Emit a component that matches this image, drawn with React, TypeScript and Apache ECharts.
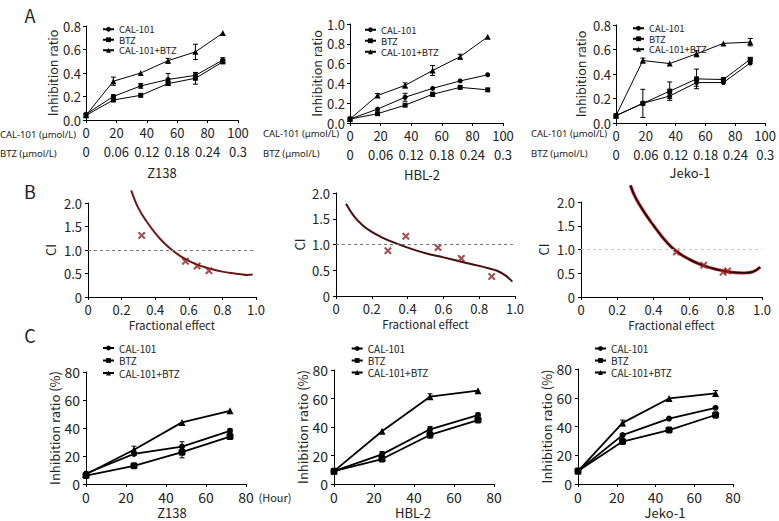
import React, { useEffect, useRef } from "react";
import * as echarts from "echarts";

// ---------- data ----------
const seriesNames = ["CAL-101", "BTZ", "CAL-101+BTZ"];

// Panel A: dose (CAL-101 µmol/L)
const doseX = [0, 18, 36, 54, 72, 90];
const btzTickLabels = ["0", "0.06", "0.12", "0.18", "0.24", "0.3"];

const z138Cal = [0.05, 0.2, 0.29, 0.345, 0.38, 0.51];
const z138CalErr = [0, 0.015, 0.02, 0.05, 0.02, 0.02];
const z138Btz = [0.04, 0.17, 0.21, 0.31, 0.355, 0.495];
const z138BtzErr = [0, 0.01, 0, 0.015, 0.05, 0.015];
const z138Combo = [0.04, 0.33, 0.4, 0.505, 0.58, 0.74];
const z138ComboErr = [0, 0.035, 0, 0.02, 0.065, 0];

const hblCal = [0.04, 0.14, 0.26, 0.35, 0.425, 0.487];
const hblCalErr = [0, 0, 0.04, 0, 0, 0];
const hblBtz = [0.04, 0.094, 0.18, 0.29, 0.36, 0.335];
const hblBtzErr = [0, 0, 0, 0.02, 0, 0];
const hblCombo = [0.04, 0.278, 0.38, 0.53, 0.67, 0.87];
const hblComboErr = [0, 0.02, 0.025, 0.05, 0.025, 0];

const jekoCal = [0.06, 0.16, 0.22, 0.33, 0.33, 0.49];
const jekoCalErr = [0, 0, 0.02, 0.03, 0, 0];
const jekoBtz = [0.06, 0.16, 0.26, 0.36, 0.355, 0.52];
const jekoBtzErr = [0, 0.115, 0.075, 0.08, 0.01, 0.01];
const jekoCombo = [0.06, 0.51, 0.485, 0.565, 0.65, 0.66];
const jekoComboErr = [0, 0.02, 0, 0.025, 0, 0.03];

// Panel B: CI vs fractional effect
const z138CurveFa = [0.257, 0.3, 0.35, 0.4, 0.45, 0.5, 0.55, 0.6, 0.65, 0.7, 0.75, 0.8, 0.85, 0.9, 0.95, 0.98];
const z138CurveCI = [2.27, 1.89, 1.6, 1.36, 1.16, 1.0, 0.87, 0.77, 0.69, 0.63, 0.58, 0.54, 0.51, 0.49, 0.47, 0.48];
const z138PointsFa = [0.32, 0.58, 0.65, 0.72];
const z138PointsCI = [1.31, 0.76, 0.66, 0.56];

const hblCurveFa = [0.056, 0.1, 0.15, 0.2, 0.25, 0.3, 0.4, 0.5, 0.6, 0.7, 0.8, 0.85, 0.9, 0.95, 0.985];
const hblCurveCI = [1.79, 1.55, 1.37, 1.245, 1.15, 1.07, 0.94, 0.83, 0.75, 0.665, 0.585, 0.54, 0.49, 0.39, 0.28];
const hblPointsFa = [0.29, 0.39, 0.57, 0.7, 0.87];
const hblPointsCI = [0.88, 1.16, 0.94, 0.73, 0.38];

const jekoCurveFa = [0.273, 0.3, 0.35, 0.4, 0.45, 0.5, 0.55, 0.6, 0.65, 0.7, 0.75, 0.8, 0.85, 0.9, 0.95, 0.99];
const jekoCurveCI = [2.35, 2.1, 1.78, 1.51, 1.26, 1.05, 0.9, 0.79, 0.7, 0.63, 0.58, 0.54, 0.515, 0.505, 0.53, 0.63];
const jekoPointsFa = [0.527, 0.678, 0.785, 0.81];
const jekoPointsCI = [0.95, 0.67, 0.52, 0.55];

// Panel C: time course (hours)
const hoursZ138 = [0, 24, 48, 72];
const hoursHbl = [0, 24, 48, 72];
const hoursJeko = [0, 23, 47, 71];

const cZ138Cal = [7.5, 21.5, 26.7, 38];
const cZ138CalErr = [0, 1, 3.5, 1.5];
const cZ138Btz = [6, 13, 22.7, 33.9];
const cZ138BtzErr = [0, 0, 4, 2];
const cZ138Combo = [7, 24.5, 44, 52.3];
const cZ138ComboErr = [0, 2.5, 0, 0];

const cHblCal = [9, 20.8, 38.4, 48.4];
const cHblCalErr = [0, 2, 2, 1.5];
const cHblBtz = [9, 17.5, 34.4, 44.9];
const cHblBtzErr = [0, 1, 2, 1.5];
const cHblCombo = [9, 37, 61.3, 65.5];
const cHblComboErr = [0, 0, 2, 0];

const cJekoCal = [9, 34, 45.5, 53];
const cJekoCalErr = [0, 0, 0, 0];
const cJekoBtz = [9, 29.5, 37.5, 48];
const cJekoBtzErr = [0, 0, 0, 2];
const cJekoCombo = [9, 42.5, 59.5, 63];
const cJekoComboErr = [0, 2, 0, 2];

// ---------- helpers ----------
const FONT = '"Noto Sans CJK KR", "Noto Sans", sans-serif';
const LATIN = '"Noto Sans", sans-serif';
const TXT = "#222";

const xy = (xs: number[], ys: number[]) => xs.map((x, i) => [x, ys[i]]);
const errData = (xs: number[], ys: number[], es: number[]) => {
  const out: number[][] = [];
  xs.forEach((x, i) => {
    if (es[i] > 0) out.push([x, ys[i] - es[i], ys[i] + es[i]]);
  });
  return out;
};

const renderErr = (params: any, api: any) => {
  const x = api.value(0);
  const a = api.coord([x, api.value(1)]);
  const b = api.coord([x, api.value(2)]);
  const w = 2.5;
  const style = { stroke: "#000", lineWidth: 1 };
  return {
    type: "group",
    children: [
      { type: "line", shape: { x1: a[0], y1: a[1], x2: b[0], y2: b[1] }, style },
      { type: "line", shape: { x1: a[0] - w, y1: a[1], x2: a[0] + w, y2: a[1] }, style },
      { type: "line", shape: { x1: b[0] - w, y1: b[1], x2: b[0] + w, y2: b[1] }, style },
    ],
  };
};

const axisBase = (fontSize: number, margin: number) => ({
  axisLine: { show: true, lineStyle: { color: "#000", width: 1 } },
  axisTick: { show: true, length: 3, lineStyle: { color: "#000" } },
  splitLine: { show: false },
  axisLabel: { color: TXT, fontSize, fontFamily: FONT, margin },
  nameTextStyle: { color: TXT, fontFamily: FONT, fontSize },
});

const X_SYMBOL =
  "path://M1.5,0 L5,3.5 L8.5,0 L10,1.5 L6.5,5 L10,8.5 L8.5,10 L5,6.5 L1.5,10 L0,8.5 L3.5,5 L0,1.5 Z";

function App() {
  const ref = useRef<HTMLDivElement>(null);

  useEffect(() => {
    if (!ref.current) return;
    const chart = echarts.init(ref.current, null, { renderer: "svg", width: 779, height: 521 });

    const grids = [
      { left: 86, top: 26, width: 152, height: 94 },
      { left: 350, top: 24, width: 153, height: 99 },
      { left: 616, top: 25, width: 152, height: 98 },
      { left: 88, top: 203, width: 168, height: 94 },
      { left: 336, top: 193, width: 179, height: 103 },
      { left: 581, top: 202, width: 181, height: 95 },
      { left: 86, top: 372, width: 160, height: 112 },
      { left: 334, top: 370, width: 160, height: 114 },
      { left: 578, top: 369, width: 155, height: 115 },
    ];

    const xAxes: any[] = [];
    const yAxes: any[] = [];
    const yNameGapA = [26, 26, 29];
    const yNameGapB = [31, 30, 31];
    const yNameGapC = [25, 23, 24];

    // A axes: xAxis index 2*i (CAL) and 2*i+1 (BTZ)
    for (let i = 0; i < 3; i++) {
      xAxes.push({
        type: "value", gridIndex: i, min: 0, max: 100, interval: 20, position: "bottom",
        ...axisBase(13, 6),
      });
      xAxes.push({
        type: "value", gridIndex: i, min: 0, max: 100, interval: 20, position: "bottom", offset: 19,
        ...axisBase(13, 6),
        axisLine: { show: false },
        axisTick: { show: false },
        axisLabel: {
          color: TXT, fontSize: 13, fontFamily: FONT, margin: 6,
          formatter: (v: number) => btzTickLabels[Math.round(v / 20)] ?? "",
        },
      });
      const yMax = i === 1 ? 1.0 : 0.8;
      yAxes.push({
        type: "value", gridIndex: i, min: 0, max: yMax, interval: 0.2,
        ...axisBase(13, 5),
        axisLabel: { color: TXT, fontSize: 13, fontFamily: FONT, margin: 5, formatter: (v: number) => v.toFixed(1) },
        name: "Inhibition ratio", nameLocation: "middle", nameGap: yNameGapA[i],
        nameTextStyle: { color: TXT, fontFamily: FONT, fontSize: 12.5 },
      });
    }
    // B axes: xAxis 6..8
    for (let i = 0; i < 3; i++) {
      const fmt = (v: number) => (v === 0 ? "0" : v.toFixed(1));
      xAxes.push({
        type: "value", gridIndex: 3 + i, min: 0, max: 1, interval: 0.2,
        ...axisBase(13, 6),
        axisLabel: { color: TXT, fontSize: 13, fontFamily: FONT, margin: 6, formatter: fmt },
        name: "Fractional effect", nameLocation: "middle", nameGap: 22,
        nameTextStyle: { color: TXT, fontFamily: FONT, fontSize: 11.5 },
      });
      yAxes.push({
        type: "value", gridIndex: 3 + i, min: 0, max: 2, interval: 0.5,
        ...axisBase(13, 6),
        axisLabel: { color: TXT, fontSize: 13, fontFamily: FONT, margin: 6, formatter: fmt },
        name: "CI", nameLocation: "middle", nameGap: yNameGapB[i],
        nameTextStyle: { color: TXT, fontFamily: FONT, fontSize: 13 },
      });
    }
    // C axes: xAxis 9..11
    for (let i = 0; i < 3; i++) {
      xAxes.push({
        type: "value", gridIndex: 6 + i, min: 0, max: 80, interval: 20,
        ...axisBase(14, 6),
      });
      yAxes.push({
        type: "value", gridIndex: 6 + i, min: 0, max: 80, interval: 20,
        ...axisBase(14, 6),
        name: "Inhibition ratio (%)", nameLocation: "middle", nameGap: yNameGapC[i],
        nameTextStyle: { color: TXT, fontFamily: FONT, fontSize: 13 },
      });
    }

    const series: any[] = [];
    const addGroup = (
      xAxisIndex: number, yAxisIndex: number, xs: number[],
      sets: [number[], number[]][], big: boolean
    ) => {
      const symbols = big ? ["circle", "roundRect", "triangle"] : ["circle", "rect", "triangle"];
      const sizes = big ? [6, 7, 7] : [5, 5, 6];
      sets.forEach(([ys, es], k) => {
        series.push({
          type: "line", name: seriesNames[k], xAxisIndex, yAxisIndex,
          data: xy(xs, ys), symbol: symbols[k], symbolSize: sizes[k], showSymbol: true,
          lineStyle: { color: "#000", width: big ? 1.8 : 1 },
          itemStyle: { color: "#000" }, z: 3,
        });
        const ed = errData(xs, ys, es);
        if (ed.length)
          series.push({
            type: "custom", xAxisIndex, yAxisIndex, data: ed, renderItem: renderErr,
            encode: { x: 0, y: [1, 2] }, silent: true, z: 4,
          });
      });
    };

    addGroup(0, 0, doseX, [[z138Cal, z138CalErr], [z138Btz, z138BtzErr], [z138Combo, z138ComboErr]], false);
    addGroup(2, 1, doseX, [[hblCal, hblCalErr], [hblBtz, hblBtzErr], [hblCombo, hblComboErr]], false);
    addGroup(4, 2, doseX, [[jekoCal, jekoCalErr], [jekoBtz, jekoBtzErr], [jekoCombo, jekoComboErr]], false);

    const addCI = (
      idx: number, cFa: number[], cCI: number[], pFa: number[], pCI: number[],
      curveColor: string, ptColor: string, refColor: string, halo: boolean
    ) => {
      const xi = 6 + idx, yi = 3 + idx;
      if (halo)
        series.push({
          type: "line", xAxisIndex: xi, yAxisIndex: yi, data: xy(cFa, cCI),
          showSymbol: false, smooth: 0.4, clip: false,
          lineStyle: { color: "#c23030", width: 3.2 }, z: 2,
        });
      series.push({
        type: "line", xAxisIndex: xi, yAxisIndex: yi, data: xy(cFa, cCI),
        showSymbol: false, smooth: 0.4, clip: false,
        lineStyle: { color: curveColor, width: halo ? 1.6 : 2 }, z: 3,
        markLine: {
          silent: true, symbol: "none", label: { show: false },
          lineStyle: { type: [3, 3], color: refColor, width: 1 },
          data: [{ yAxis: 1 }],
        },
      });
      series.push({
        type: "scatter", xAxisIndex: xi, yAxisIndex: yi, data: xy(pFa, pCI),
        symbol: X_SYMBOL, symbolSize: 7,
        itemStyle: { color: ptColor, borderColor: "#5a0d0d", borderWidth: 0.6 }, z: 4,
      });
    };
    addCI(0, z138CurveFa, z138CurveCI, z138PointsFa, z138PointsCI, "#701818", "#a02525", "#777", false);
    addCI(1, hblCurveFa, hblCurveCI, hblPointsFa, hblPointsCI, "#4a0c0c", "#a02525", "#777", false);
    addCI(2, jekoCurveFa, jekoCurveCI, jekoPointsFa, jekoPointsCI, "#1a0202", "#c02a2a", "#c8c8c8", true);

    addGroup(9, 6, hoursZ138, [[cZ138Cal, cZ138CalErr], [cZ138Btz, cZ138BtzErr], [cZ138Combo, cZ138ComboErr]], true);
    addGroup(10, 7, hoursHbl, [[cHblCal, cHblCalErr], [cHblBtz, cHblBtzErr], [cHblCombo, cHblComboErr]], true);
    addGroup(11, 8, hoursJeko, [[cJekoCal, cJekoCalErr], [cJekoBtz, cJekoBtzErr], [cJekoCombo, cJekoComboErr]], true);

    const mkLegend = (left: number, top: number, gap: number, lh: number, fs: number) => ({
      left, top, orient: "vertical", itemWidth: 11, itemHeight: 6, itemGap: gap,
      selectedMode: false, data: seriesNames,
      textStyle: { fontSize: fs, fontFamily: FONT, color: TXT, lineHeight: lh },
    });
    const legends = [
      mkLegend(97, 19, 0, 10.5, 9.5),
      mkLegend(359, 19.5, 0.5, 10.5, 9.5),
      mkLegend(627, 18, 0, 10.5, 9.5),
      mkLegend(97, 338, 2.5, 10, 10),
      mkLegend(345.7, 338.5, 2, 10, 10),
      mkLegend(589, 338.5, 2, 10, 10),
    ];

    const txt = (x: number, y: number, text: string, size: number, align = "center", fam = FONT) => ({
      type: "text", x, y,
      style: { text, fill: TXT, font: `${size}px ${fam}`, textAlign: align, textVerticalAlign: "middle" },
    });

    const graphic = [
      txt(30, 15, "A", 18), txt(30, 191, "B", 18), txt(30, 335, "C", 18),
      txt(162, 172, "Z138", 13), txt(422, 174, "HBL-2", 13), txt(690, 172, "Jeko-1", 13),
      txt(172, 512, "Z138", 13), txt(413, 512, "HBL-2", 13), txt(665, 512, "Jeko-1", 13),
      txt(0, 134, "CAL-101 (μmol/L)", 9.5, "left", LATIN), txt(0, 153, "BTZ (μmol/L)", 9.5, "left", LATIN),
      txt(263, 133, "CAL-101 (μmol/L)", 9.5, "left", LATIN), txt(263, 153, "BTZ (μmol/L)", 9.5, "left", LATIN),
      txt(531, 133, "CAL-101 (μmol/L)", 9.5, "left", LATIN), txt(531, 153, "BTZ (μmol/L)", 9.5, "left", LATIN),
      txt(275, 497, "(Hour)", 11),
    ];

    chart.setOption({
      animation: false,
      backgroundColor: "#fff",
      textStyle: { fontFamily: FONT },
      grid: grids,
      xAxis: xAxes,
      yAxis: yAxes,
      legend: legends,
      series,
      graphic,
    });
    return () => chart.dispose();
  }, []);

  return (
    <div
      ref={ref}
      style={{ position: "absolute", left: 0, top: 0, width: 779, height: 521, background: "#fff" }}
    />
  );
}

export default App;
